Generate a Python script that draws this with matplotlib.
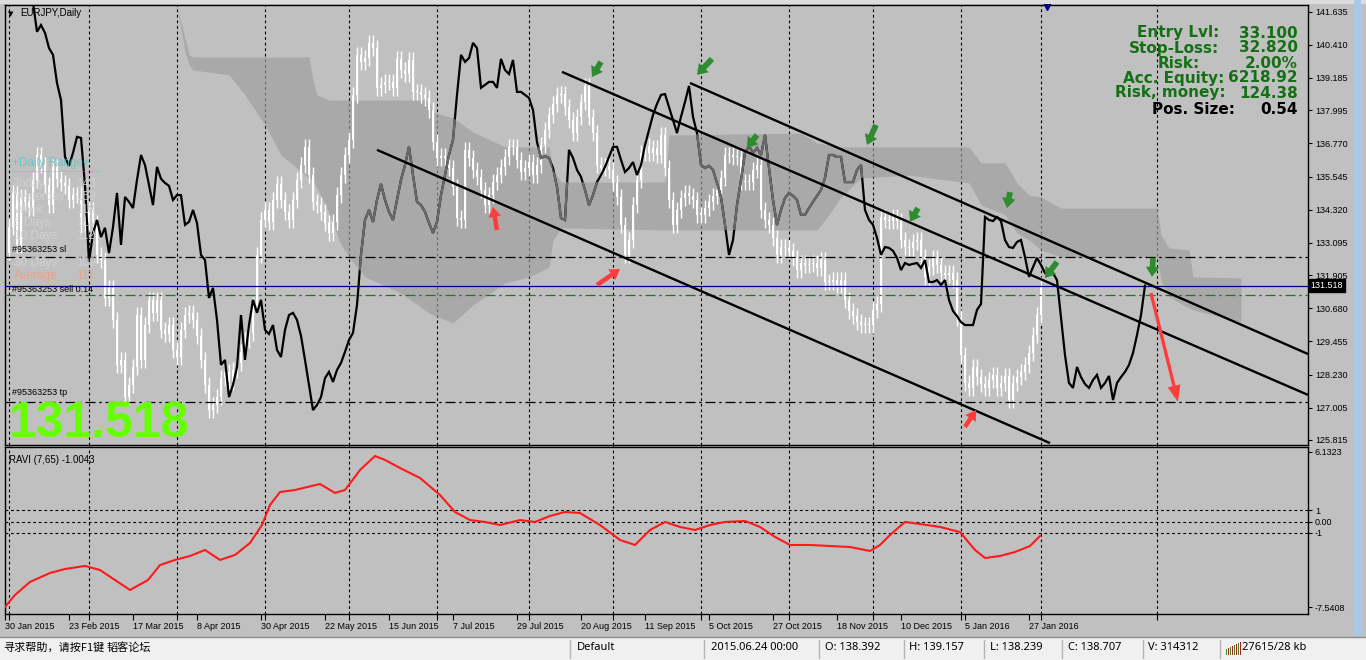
import numpy as np
import matplotlib.pyplot as plt
from matplotlib.patches import Rectangle
from matplotlib.lines import Line2D
from matplotlib.path import Path
from matplotlib.transforms import blended_transform_factory

plt.rcParams['font.family'] = ['Liberation Sans', 'DejaVu Sans']

W, H = 1366, 660

# ---- price data (EURJPY daily closes, bar index 7..285) ----
first_bar = 7
chikou_shift = 26
close = [
    141.96, 140.89, 141.14, 140.85, 140.29, 140.04, 139.00, 138.37, 136.27, 135.94,
    136.42, 137.01, 136.97, 135.23, 132.39, 133.46, 133.94, 133.31, 133.65, 132.72,
    133.68, 134.94, 133.02, 134.79, 134.61, 134.38, 135.42, 136.34, 135.97, 135.23,
    134.49, 135.90, 135.46, 135.31, 135.20, 134.68, 134.86, 134.86, 133.76, 133.87,
    134.31, 133.83, 132.65, 132.46, 131.06, 131.43, 130.25, 128.59, 128.77, 127.40,
    127.85, 128.51, 130.43, 128.77, 130.06, 130.99, 130.51, 130.99, 129.88, 129.73,
    130.06, 129.14, 128.88, 129.88, 130.43, 130.51, 130.25, 129.66, 128.77, 127.85,
    126.92, 127.11, 127.40, 128.10, 128.33, 127.96, 128.40, 128.66, 129.07, 129.51,
    129.77, 130.80, 132.65, 133.94, 134.31, 133.87, 134.68, 135.27, 134.68, 134.24,
    133.94, 134.68, 135.42, 135.97, 136.64, 135.60, 134.61, 134.49, 134.24, 133.83,
    133.46, 133.87, 134.86, 135.60, 136.34, 136.90, 138.56, 140.04, 139.78, 139.92,
    140.48, 140.29, 138.82, 138.93, 139.04, 139.04, 138.82, 139.89, 139.48, 139.33,
    139.85, 138.67, 138.67, 138.56, 138.45, 138.00, 136.82, 136.23, 136.30, 136.23,
    135.86, 135.16, 134.01, 133.94, 136.53, 136.23, 135.79, 135.53, 135.05, 134.49,
    134.86, 135.34, 135.60, 135.90, 136.27, 136.64, 136.64, 136.16, 135.71, 135.86,
    136.08, 135.60, 135.97, 136.71, 137.27, 137.82, 138.23, 138.56, 138.59, 138.11,
    137.63, 137.15, 137.75, 138.30, 138.89, 137.75, 137.15, 135.97, 135.86, 135.94,
    135.79, 135.31, 134.79, 133.76, 132.65, 133.20, 134.49, 135.42, 136.42, 136.67,
    136.42, 136.60, 136.34, 137.08, 135.86, 134.68, 133.76, 134.31, 134.75, 134.94,
    134.83, 134.68, 134.13, 134.13, 134.38, 134.61, 134.83, 135.05, 135.49, 136.34,
    136.34, 136.27, 136.27, 135.34, 135.34, 135.34, 135.79, 135.97, 134.31, 133.94,
    133.76, 133.28, 132.65, 132.94, 132.91, 132.80, 132.54, 132.09, 132.35, 132.28,
    132.32, 132.35, 132.17, 132.46, 131.65, 131.65, 131.72, 131.54, 131.72, 130.99,
    130.58, 130.39, 130.17, 130.06, 130.06, 130.06, 130.62, 130.84, 134.05, 133.94,
    133.90, 134.05, 133.90, 133.20, 132.94, 132.91, 133.13, 133.20, 132.57, 131.84,
    132.20, 132.54, 132.28, 131.98, 131.91, 131.98, 131.72, 130.32, 128.95, 127.92,
    127.74, 128.51, 128.14, 127.88, 127.74, 128.03, 128.22, 127.74, 127.92, 128.18,
    127.29, 127.92, 128.14, 128.33, 128.59, 129.03, 129.69, 130.43, 131.518,
]

# ---- Ichimoku cloud (break points) ----
cloud_bar = [43, 45, 46, 47, 56, 60, 65, 69, 76, 77, 78, 81, 84, 86, 90, 99, 106, 107,
             112, 117, 125, 131, 136, 137, 139, 165, 166, 199, 203, 206, 209, 214, 226,
             235, 241, 244, 250, 253, 256, 259, 264, 288, 289, 291, 296, 297, 309]
cloud_top = [141.81, 140.66, 140.04, 139.96, 139.96, 139.96, 139.96, 139.96, 139.96,
             139.11, 138.56, 138.37, 138.37, 138.37, 138.37, 138.37, 138.37, 137.93,
             137.71, 137.19, 136.64, 136.64, 136.64, 135.79, 135.34, 135.34, 137.08,
             137.15, 136.79, 136.71, 136.64, 136.64, 136.64, 136.64, 136.64, 136.05,
             136.05, 135.31, 134.86, 134.79, 134.38, 134.38, 133.39, 132.91, 132.83,
             131.84, 131.80]
cloud_bot = [141.81, 140.15, 139.67, 139.48, 139.30, 138.56, 137.45, 136.34, 135.49,
             135.42, 135.12, 134.20, 133.02, 132.57, 131.84, 131.24, 130.51, 130.43,
             130.14, 130.80, 131.61, 131.84, 132.20, 133.20, 133.65, 133.57, 133.57,
             133.57, 133.57, 134.13, 134.79, 135.49, 135.60, 135.42, 135.31, 134.50,
             134.13, 133.46, 133.20, 132.83, 132.57, 132.57, 131.72, 131.10, 130.69,
             130.62, 130.17]

# ---- RAVI (7,65) ----
ravi_bar = [0, 2.5, 6.25, 11.25, 15, 20, 23.75, 27.5, 31.25, 35.75, 38.75, 42.5, 46.25,
            50, 53.75, 57.5, 61.25, 64.25, 66.25, 68.75, 72.5, 78.75, 82.5, 85, 88.75,
            92.5, 95, 98.75, 103.75, 108.75, 112.5, 116.25, 120, 123.75, 128.75, 132.5,
            136.25, 140, 143.75, 148.75, 153.75, 157.5, 161.25, 165, 168.75, 172.5,
            176.25, 180, 185, 188.75, 192.5, 196.25, 201.25, 206.25, 211.25, 216.25,
            218.75, 221.25, 225, 228.75, 233.75, 238.75, 242.5, 245, 248.75, 252.5,
            256.25, 258.75]
ravi_val = [-7.54, -6.48, -5.33, -4.54, -4.19, -3.92, -4.28, -5.16, -6.04, -5.16,
            -3.84, -3.39, -3.04, -2.51, -3.39, -2.95, -1.89, -0.31, 1.46, 2.60,
            2.78, 3.31, 2.52, 2.78, 4.54, 5.78, 5.43, 4.72, 3.84, 2.34,
            0.84, 0.13, -0.04, -0.31, 0.13, -0.04, 0.49, 0.84, 0.75, -0.31,
            -1.63, -2.07, -0.75, -0.04, -0.48, -0.75, -0.31, -0.04, 0.05, -0.48,
            -1.36, -2.07, -2.07, -2.16, -2.25, -2.60, -2.07, -1.19, -0.04, -0.22,
            -0.48, -0.93, -2.51, -3.22, -3.04, -2.69, -2.16, -1.28]
ravi_levels = [1, 0, -1]

# ---- trend channel (start bar, start price, end bar, end price) ----
trend_b0 = [93, 139.25, 171.25]
trend_p0 = [136.53, 139.41, 139.00]
trend_b1 = [261.25, 325.75, 325.75]
trend_p1 = [125.70, 127.48, 128.99]

# ---- order levels ----
sl_price = 132.57
tp_price = 127.22
open_price = 131.518
bid_line = 131.17

# ---- signal arrows (tip, tail) ----
green_tip_b = [146.75, 173.0, 185.5, 215.5, 226.25, 250.5, 260.0, 286.75]
green_tip_p = [139.22, 139.30, 136.60, 136.71, 133.87, 134.38, 131.80, 131.84]
green_tail_b = [149.0, 176.75, 188.0, 217.75, 228.25, 251.25, 263.0, 287.0]
green_tail_p = [139.78, 139.89, 137.08, 137.45, 134.38, 134.97, 132.39, 132.54]
red_tip_b = [122.0, 153.75, 242.75]
red_tip_p = [134.42, 132.13, 126.92]
red_tail_b = [123.0, 148.0, 240.0]
red_tail_p = [133.57, 131.54, 126.30]
big_arrow = [(286.5, 131.24), (293.25, 127.22)]

# ---- axes labels ----
price_ticks = [141.635, 140.410, 139.185, 137.995, 136.770, 135.545, 134.320,
               133.095, 131.905, 130.680, 129.455, 128.230, 127.005, 125.815]
ravi_ticks = [6.1323, 1, 0, -1, -7.5408]
ravi_tick_labels = ['6.1323', '1', '0.00', '-1', '-7.5408']
date_bars = list(range(0, 257, 16))
date_labels = ['30 Jan 2015', '23 Feb 2015', '17 Mar 2015', '8 Apr 2015', '30 Apr 2015',
               '22 May 2015', '15 Jun 2015', '7 Jul 2015', '29 Jul 2015', '20 Aug 2015',
               '11 Sep 2015', '5 Oct 2015', '27 Oct 2015', '18 Nov 2015', '10 Dec 2015',
               '5 Jan 2016', '27 Jan 2016']
month_bars = [1, 21, 43, 65, 86, 108, 131, 152, 174, 196, 217, 239, 259, 288]

info_rows = [('Entry Lvl:', '33.100'), ('Stop-Loss:', '32.820'), ('Risk:', '2.00%'),
             ('Acc. Equity:', '6218.92'), ('Risk, money:', '124.38'), ('Pos. Size:', '0.54')]

range_rows = [('Today', '143'), ('Yesterday', '159'), ('Week', '118'), ('5 Days', '115'),
              ('10 Days', '112'), ('30 Days', '109')]
range_avg = '111'

status_items = ['Default', '2015.06.24 00:00', 'O: 138.392', 'H: 139.157', 'L: 138.239',
                'C: 138.707', 'V: 314312', '27615/28 kb']


def fx(x):
    return x / W


def fy(y):
    return 1 - y / H


BG = '#c0c0c0'
fig = plt.figure(figsize=(W / 100, H / 100), dpi=100, facecolor=BG)

ax = fig.add_axes([fx(5), fy(445), (1308 - 5) / W, 440 / H])
ax2 = fig.add_axes([fx(5), fy(614), (1308 - 5) / W, (614 - 447) / H], sharex=ax)
for a in (ax, ax2):
    a.set_facecolor(BG)
    for s in a.spines.values():
        s.set_color('black')
        s.set_linewidth(1.0)
    for b in month_bars:
        a.axvline(b, color='black', lw=0.8, ls=(0, (2.5, 2.5)), zorder=1)

ax.set_xlim(0, 325.75)
ax.set_ylim(125.63, 141.88)
ax2.set_ylim(-8.158, 6.573)

bars = np.arange(first_bar, first_bar + len(close))
closes = np.array(close)

# cloud
cloud = ax.fill_between(cloud_bar, cloud_bot, cloud_top, color='#9e9e9e', alpha=0.67,
                        lw=0, zorder=3)

# candles (shifted back like the chikou view)
idx = np.arange(20, len(closes))
c_close = closes[idx]
c_open = closes[idx - 1]
cx = bars[idx] - chikou_shift
lo = np.minimum(c_open, c_close)
hi = np.maximum(c_open, c_close)
wick = 0.3
ax.vlines(cx, lo - wick, hi + wick, color='white', lw=1.0, zorder=4)
ax.bar(cx, np.maximum(hi - lo, 0.05), bottom=lo, width=0.72, color='white', lw=0, zorder=4)

# close line, greyed where it runs inside the cloud
ax.plot(bars, closes, color='black', lw=1.6, zorder=5, solid_joinstyle='miter')
grey, = ax.plot(bars, closes, color='#6a6a6a', lw=1.6, zorder=5.1)
cloud_path = Path.make_compound_path(*cloud.get_paths())
grey.set_clip_path(cloud_path, ax.transData)

# order levels
ax.axhline(open_price, color='#000080', lw=0.9, zorder=4.5)
ax.axhline(bid_line, color='#2e6b2e', lw=0.9, ls=(0, (8, 3, 2, 3)), zorder=4.5)
ax.axhline(sl_price, color='black', lw=0.9, ls=(0, (8, 3, 2, 3)), zorder=4.5)
ax.axhline(tp_price, color='black', lw=0.9, ls=(0, (8, 3, 2, 3)), zorder=4.5)

# trend channel
for b0, p0, b1, p1 in zip(trend_b0, trend_p0, trend_b1, trend_p1):
    ax.plot([b0, b1], [p0, p1], color='black', lw=1.7, zorder=7, solid_capstyle='butt')

# arrows
for tb, tp, sb, sp in zip(green_tip_b, green_tip_p, green_tail_b, green_tail_p):
    ax.annotate('', xy=(tb, tp), xytext=(sb, sp),
                arrowprops=dict(arrowstyle='simple,head_length=0.55,head_width=0.75,tail_width=0.32',
                                fc='#2e8b2e', ec='none', shrinkA=0, shrinkB=0,
                                mutation_scale=13), zorder=8)
for tb, tp, sb, sp in zip(red_tip_b, red_tip_p, red_tail_b, red_tail_p):
    ax.annotate('', xy=(tb, tp), xytext=(sb, sp),
                arrowprops=dict(arrowstyle='simple,head_length=0.55,head_width=0.7,tail_width=0.25',
                                fc='#ff3c3c', ec='none', shrinkA=0, shrinkB=0,
                                mutation_scale=13), zorder=8)
ax.annotate('', xy=big_arrow[1], xytext=big_arrow[0],
            arrowprops=dict(arrowstyle='simple,head_length=0.7,head_width=0.55,tail_width=0.14',
                            fc='#ff3c3c', ec='none', shrinkA=0, shrinkB=0,
                            mutation_scale=17), zorder=8)

# top marker
ax.plot([260.5], [141.88], marker='v', color='#000080', ms=7, clip_on=False, zorder=9)

# price axis
ax.yaxis.tick_right()
ax.set_yticks(price_ticks)
ax.set_yticklabels([f'{v:.3f}' for v in price_ticks])
ax.tick_params(axis='y', length=3, width=0.8, pad=2, labelsize=6.5, colors='black')
ax.tick_params(axis='x', bottom=False, labelbottom=False)
tr = blended_transform_factory(ax.transAxes, ax.transData)
ax.text(1.002, open_price, f'{open_price:.3f}', transform=tr, va='center', ha='left',
        fontsize=6.5, color='white', zorder=10,
        bbox=dict(fc='black', ec='black', pad=1.3))

# RAVI panel
ax2.plot(ravi_bar, ravi_val, color='#ff1a1a', lw=1.5, zorder=4)
for lv in ravi_levels:
    ax2.axhline(lv, color='black', lw=0.8, ls=(0, (2.5, 2.5)), zorder=2)
ax2.yaxis.tick_right()
ax2.set_yticks(ravi_ticks)
ax2.set_yticklabels(ravi_tick_labels)
ax2.tick_params(axis='y', length=3, width=0.8, pad=2, labelsize=6.5)
ax2.set_xticks(date_bars)
ax2.set_xticklabels(date_labels, ha='left')
ax2.set_xticks(month_bars, minor=True)
ax2.tick_params(axis='x', which='both', length=4, width=0.8, pad=2, labelsize=6.5)
ax2.text(0.003, 0.955, 'RAVI (7,65) -1.0043', transform=ax2.transAxes, fontsize=7,
         va='top', ha='left')

# text overlays on the main chart
fig.text(fx(8), fy(14), '\u25bc', fontsize=5, va='center', ha='left', family='DejaVu Sans')
fig.text(fx(20), fy(13), 'EURJPY,Daily', fontsize=7, va='center', ha='left')

row_y = [33, 48, 63, 78, 93, 109]
label_right = [1219, 1219, 1200, 1224, 1226, 1235]
for (lab, val), yy, xr in zip(info_rows, row_y, label_right):
    col = 'black' if lab.startswith('Pos') else '#157015'
    fig.text(fx(xr), fy(yy), lab, fontsize=11, fontweight='bold', family='DejaVu Sans',
             color=col, ha='right', va='center')
    fig.text(fx(1298), fy(yy), val, fontsize=11, fontweight='bold', family='DejaVu Sans',
             color=col, ha='right', va='center')

fig.text(fx(12), fy(163), '+Daily Range+', fontsize=8.5, color='#56c8c8', alpha=0.8,
         ha='left', va='center')
fig.add_artist(Line2D([fx(12), fx(100)], [fy(171), fy(171)], color='#56c8c8', lw=0.7,
                      ls=(0, (1, 1)), alpha=0.8))
ry = [184, 197, 210, 223, 236, 263]
for (lab, val), yy in zip(range_rows, ry):
    fig.text(fx(14), fy(yy), lab, fontsize=8.5, color='#d4d4d4', alpha=0.85, ha='left', va='center')
    fig.text(fx(76), fy(yy), val, fontsize=8.5, color='#d4d4d4', alpha=0.85, ha='left', va='center')
fig.text(fx(14), fy(276), 'Average', fontsize=8.5, color='#f0a080', alpha=0.9, ha='left', va='center')
fig.text(fx(76), fy(276), range_avg, fontsize=8.5, color='#f0a080', alpha=0.9, ha='left', va='center')

fig.text(fx(12), fy(250), '#95363253 sl', fontsize=6.5, ha='left', va='center')
fig.text(fx(12), fy(289), '#95363253 sell 0.14', fontsize=6.5, ha='left', va='center')
fig.text(fx(12), fy(392), '#95363253 tp', fontsize=6.5, ha='left', va='center')
fig.text(fx(9), fy(437), f'{open_price:.3f}', fontsize=36, fontweight='bold',
         color='#66ff00', ha='left', va='baseline', zorder=12)

# window chrome
fig.add_artist(Rectangle((0, fy(4)), 1, 4 / H, transform=fig.transFigure,
                         fc='#dcdcdc', ec='none'))
fig.add_artist(Rectangle((fx(1354), fy(636)), 7 / W, 636 / H, transform=fig.transFigure,
                         fc='#a9c9e9', ec='none'))
fig.add_artist(Rectangle((0, 0), 1, fy(637), transform=fig.transFigure,
                         fc='#f0f0f0', ec='none'))
fig.add_artist(Line2D([0, 1], [fy(637), fy(637)], transform=fig.transFigure,
                      color='#8c8c8c', lw=1))
for sx in [570, 704, 819, 904, 984, 1062, 1143, 1220]:
    fig.add_artist(Line2D([fx(sx), fx(sx)], [fy(640), fy(658)], transform=fig.transFigure,
                          color='#b4b4b4', lw=1))
fig.text(fx(3), fy(648), '寻求帮助，请按F1键', fontsize=8,
         family=['Noto Sans CJK SC', 'DejaVu Sans'], ha='left', va='center')
fig.text(fx(107), fy(648), '韬客论坛', fontsize=8,
         family=['Noto Sans CJK SC', 'DejaVu Sans'], ha='left', va='center')
status_x = [577, 711, 825, 909, 990, 1068, 1148, 1242]
for sx, s in zip(status_x, status_items):
    fig.text(fx(sx), fy(648), s, fontsize=8, family='Noto Sans', ha='left', va='center')
icon_cols = ['#3a8a2a', '#b02020', '#3a8a2a', '#b02020', '#3a8a2a', '#b02020', '#3a8a2a',
             '#b02020']
for k, c in enumerate(icon_cols):
    fig.add_artist(Rectangle((fx(1226 + 2 * k), fy(655)), 1.3 / W, (6 + k) / H,
                             transform=fig.transFigure, fc=c, ec='none'))

fig.savefig('out.png', dpi=100, facecolor=fig.get_facecolor())
